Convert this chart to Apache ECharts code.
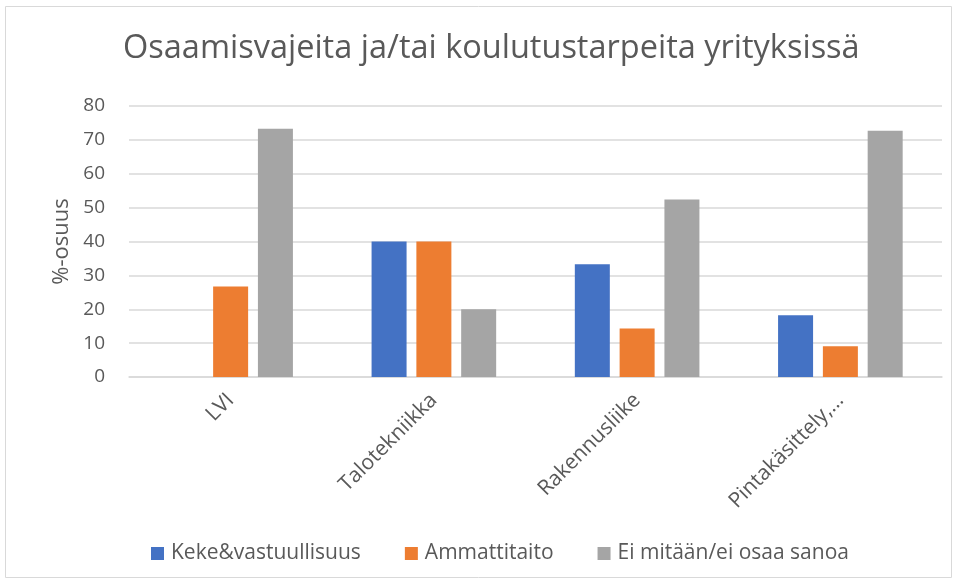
<!DOCTYPE html>
<html lang="fi">
<head>
    <meta charset="UTF-8">
    <title>Osaamisvajeita</title>
    <script src="https://cdn.jsdelivr.net/npm/echarts@6/dist/echarts.min.js"></script>
    <style>
        html, body { margin: 0; padding: 0; background: #fff; }
    </style>
</head>
<body>
    <div id="main" style="width: 959px;height:583px;"></div>
    <script type="text/javascript">
        // data
        var categories = ['LVI', 'Talotekniikka', 'Rakennusliike', 'Pintakäsittely,…'];
        var keke = [null, 40, 33.3, 18.2];
        var ammattitaito = [26.7, 40, 14.3, 9.1];
        var eiMitaan = [73.3, 20, 52.4, 72.7];
        var seriesNames = ['Keke&vastuullisuus', 'Ammattitaito', 'Ei mitään/ei osaa sanoa'];

        var myChart = echarts.init(document.getElementById('main'));
        var txt = '#595959';
        var font = '"Open Sans", sans-serif';

        var option = {
            color: ['#4472C4', '#ED7D31', '#A5A5A5'],
            textStyle: { fontFamily: font },
            title: {
                text: 'Osaamisvajeita ja/tai koulutustarpeita yrityksissä',
                left: 118,
                top: 27,
                textStyle: { color: txt, fontSize: 32.5, fontWeight: 'normal', fontFamily: font }
            },
            legend: {
                top: 538,
                left: 146,
                itemWidth: 13,
                itemHeight: 13,
                itemGap: 44,
                icon: 'rect',
                textStyle: { color: txt, fontSize: 21, fontFamily: font, padding: [0, 0, 0, 2] },
                data: seriesNames
            },
            grid: { left: 129, right: 17, top: 106, bottom: 206 },
            xAxis: {
                type: 'category',
                data: categories,
                axisLine: { lineStyle: { color: '#D9D9D9', width: 1.5 } },
                axisTick: { show: false },
                axisLabel: { rotate: 45, color: txt, fontSize: 21, margin: 20, fontFamily: font }
            },
            yAxis: {
                type: 'value',
                min: 0,
                max: 80,
                interval: 10,
                name: '%-osuus',
                nameLocation: 'center',
                nameGap: 55,
                nameTextStyle: { color: txt, fontSize: 22, fontFamily: font },
                axisLine: { show: false },
                axisTick: { show: false },
                axisLabel: { color: txt, fontSize: 19, margin: 24, fontFamily: font },
                splitLine: { lineStyle: { color: '#D9D9D9', width: 1.5 } }
            },
            graphic: [{
                type: 'rect',
                shape: { x: 5.5, y: 6.5, width: 946, height: 571 },
                style: { fill: 'none', stroke: '#D9D9D9', lineWidth: 1 },
                silent: true
            }],
            series: [
                { name: seriesNames[0], type: 'bar', data: keke, barWidth: 35, barGap: '28%' },
                { name: seriesNames[1], type: 'bar', data: ammattitaito, barWidth: 35, barGap: '28%' },
                { name: seriesNames[2], type: 'bar', data: eiMitaan, barWidth: 35, barGap: '28%' }
            ]
        };

        myChart.setOption(option);
    </script>
</body>
</html>
